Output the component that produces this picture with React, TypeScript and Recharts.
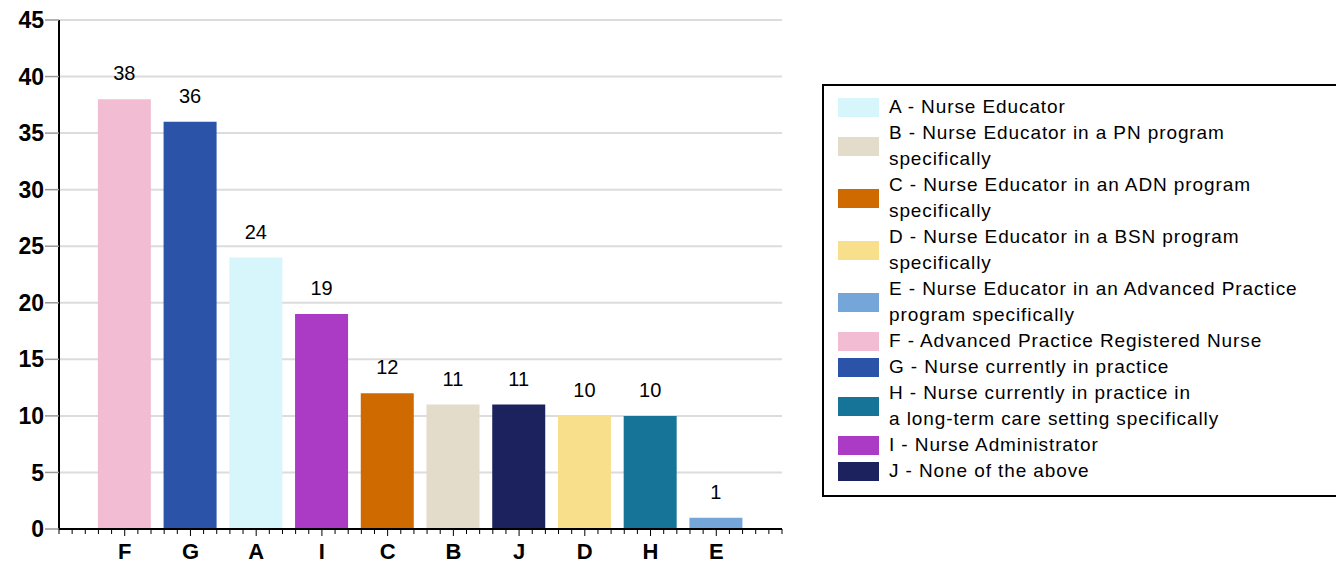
import { BarChart, Bar, XAxis, YAxis, CartesianGrid, Cell, LabelList } from 'recharts';

// bar order as drawn, left to right
const categories = ['F', 'G', 'A', 'I', 'C', 'B', 'J', 'D', 'H', 'E'];
const counts = [38, 36, 24, 19, 12, 11, 11, 10, 10, 1];
const barColors = ['#f2bcd3', '#2b54a8', '#d6f6fb', '#ab3bc4', '#cf6a00', '#e3dccb', '#1c225e', '#f8df8b', '#157497', '#74a6da'];

const yTicks = [0, 5, 10, 15, 20, 25, 30, 35, 40, 45];

// legend, alphabetical, with the line breaks of the original
const legendKeys = ['A', 'B', 'C', 'D', 'E', 'F', 'G', 'H', 'I', 'J'];
const legendLines = [
  ['A - Nurse Educator'],
  ['B - Nurse Educator in a PN program', 'specifically'],
  ['C - Nurse Educator in an ADN program', 'specifically'],
  ['D - Nurse Educator in a BSN program', 'specifically'],
  ['E - Nurse Educator in an Advanced Practice', 'program specifically'],
  ['F - Advanced Practice Registered Nurse'],
  ['G - Nurse currently in practice'],
  ['H - Nurse currently in practice in', 'a long-term care setting specifically'],
  ['I - Nurse Administrator'],
  ['J - None of the above'],
];

const FONT = '"Liberation Sans", Arial, sans-serif';
const STEP = 5; // each category sits on a multiple of 5; minor ticks every unit

const data = categories.map((cat, i) => ({
  cat,
  pos: (i + 1) * STEP,
  value: counts[i],
  color: barColors[i],
}));

const xTicks = Array.from({ length: (categories.length + 1) * STEP + 1 }, (_, i) => i);

const XTick = ({ x, y, payload }: { x: number; y: number; payload: { value: number } }) => {
  const v = payload.value;
  const idx = v % STEP === 0 ? v / STEP - 1 : -1;
  const label = idx >= 0 && idx < categories.length ? categories[idx] : null;
  return (
    <g>
      <line x1={x} x2={x} y1={y} y2={y + (label ? 7 : 5)} stroke="#000" strokeWidth={1} />
      {label && (
        <text x={x} y={y + 30} textAnchor="middle" fill="#000" fontSize={22} fontWeight={700} fontFamily={FONT}>
          {label}
        </text>
      )}
    </g>
  );
};

function colorOf(key: string) {
  return barColors[categories.indexOf(key)];
}

function ChartLegend() {
  return (
    <div style={{
      position: 'absolute',
      left: 822,
      top: 84,
      width: 540,
      border: '2px solid #000',
      boxSizing: 'border-box',
      padding: '8px 0 11px 14px',
      fontFamily: FONT,
      fontSize: 19,
      letterSpacing: '0.9px',
      lineHeight: '26px',
      color: '#000',
      background: '#fff',
    }}>
      {legendKeys.map((key, i) => (
        <div key={key} style={{ display: 'flex', alignItems: 'center' }}>
          <div style={{ width: 41, height: 19, backgroundColor: colorOf(key), flexShrink: 0 }} />
          <div style={{ marginLeft: 10, whiteSpace: 'nowrap' }}>
            {legendLines[i].map((line, j) => <div key={j}>{line}</div>)}
          </div>
        </div>
      ))}
    </div>
  );
}

export default function App() {
  return (
    <div style={{ position: 'absolute', left: 0, top: 0, width: 1336, height: 566, overflow: 'hidden', background: '#fff' }}>
      <BarChart
        width={1336}
        height={566}
        data={data}
        margin={{ top: 20, right: 554, left: 0, bottom: 0 }}
      >
        <CartesianGrid vertical={false} stroke="#dcdcdc" strokeWidth={2} />
        <XAxis
          type="number"
          dataKey="pos"
          domain={[0, (categories.length + 1) * STEP]}
          ticks={xTicks}
          interval={0}
          tick={XTick}
          tickLine={false}
          tickSize={0}
          tickMargin={0}
          height={37}
          axisLine={{ stroke: '#000', strokeWidth: 2 }}
        />
        <YAxis
          domain={[0, 45]}
          ticks={yTicks}
          interval={0}
          width={59}
          tickSize={14}
          tickMargin={1}
          tickLine={{ stroke: '#999', strokeWidth: 1.5 }}
          axisLine={{ stroke: '#000', strokeWidth: 2 }}
          tick={{ fill: '#000', fontSize: 23, fontWeight: 700, fontFamily: FONT }}
        />
        <Bar dataKey="value" barSize={53} isAnimationActive={false}>
          {data.map((d) => (
            <Cell key={d.cat} fill={d.color} />
          ))}
          <LabelList dataKey="value" position="top" offset={19} fill="#000" fontSize={20} fontFamily={FONT} />
        </Bar>
      </BarChart>
      <ChartLegend />
    </div>
  );
}
